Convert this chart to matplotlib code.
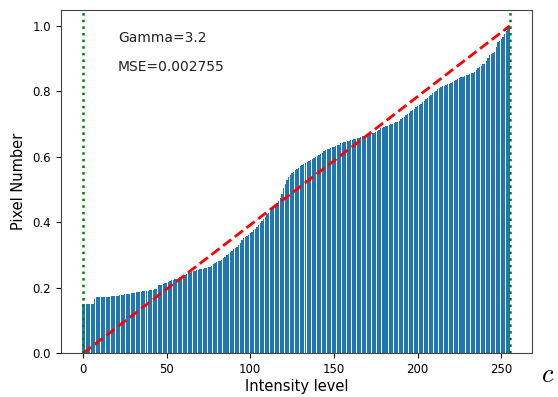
import numpy as np
import matplotlib
matplotlib.use('Agg')
import matplotlib.pyplot as plt

# Intensity levels 0..255 and cumulative pixel share
levels = np.arange(256)
cdf = [
    0.150, 0.150, 0.150, 0.150, 0.150, 0.150, 0.150, 0.165, 0.171, 0.171, 0.171, 0.172, 0.172, 0.172, 0.172, 0.172,
    0.172, 0.174, 0.174, 0.175, 0.175, 0.175, 0.177, 0.178, 0.178, 0.180, 0.181, 0.182, 0.182, 0.183, 0.184, 0.185,
    0.186, 0.186, 0.187, 0.188, 0.189, 0.189, 0.190, 0.191, 0.192, 0.193, 0.194, 0.195, 0.195, 0.208, 0.208, 0.210,
    0.212, 0.214, 0.216, 0.218, 0.221, 0.223, 0.225, 0.226, 0.228, 0.230, 0.233, 0.235, 0.237, 0.239, 0.241, 0.244,
    0.246, 0.248, 0.250, 0.251, 0.253, 0.255, 0.257, 0.258, 0.259, 0.260, 0.261, 0.263, 0.265, 0.268, 0.272, 0.276,
    0.279, 0.281, 0.283, 0.286, 0.290, 0.294, 0.299, 0.304, 0.310, 0.314, 0.318, 0.322, 0.326, 0.331, 0.338, 0.345,
    0.352, 0.355, 0.358, 0.362, 0.366, 0.371, 0.376, 0.381, 0.386, 0.391, 0.397, 0.403, 0.410, 0.417, 0.424, 0.430,
    0.435, 0.441, 0.446, 0.452, 0.458, 0.465, 0.473, 0.488, 0.505, 0.518, 0.529, 0.538, 0.545, 0.551, 0.555, 0.559,
    0.562, 0.566, 0.572, 0.575, 0.578, 0.581, 0.585, 0.588, 0.591, 0.594, 0.597, 0.600, 0.602, 0.605, 0.608, 0.612,
    0.617, 0.621, 0.623, 0.625, 0.627, 0.629, 0.631, 0.633, 0.635, 0.637, 0.641, 0.643, 0.645, 0.646, 0.648, 0.650,
    0.651, 0.653, 0.654, 0.656, 0.657, 0.659, 0.661, 0.663, 0.665, 0.666, 0.668, 0.669, 0.671, 0.672, 0.674, 0.676,
    0.678, 0.682, 0.687, 0.689, 0.691, 0.693, 0.695, 0.697, 0.699, 0.701, 0.703, 0.705, 0.708, 0.711, 0.715, 0.719,
    0.723, 0.727, 0.731, 0.735, 0.739, 0.743, 0.747, 0.751, 0.755, 0.759, 0.763, 0.768, 0.772, 0.776, 0.781, 0.786,
    0.790, 0.794, 0.798, 0.802, 0.806, 0.811, 0.813, 0.815, 0.817, 0.819, 0.822, 0.824, 0.826, 0.829, 0.832, 0.835,
    0.838, 0.840, 0.843, 0.845, 0.847, 0.849, 0.851, 0.853, 0.855, 0.857, 0.860, 0.865, 0.870, 0.875, 0.879, 0.883,
    0.885, 0.893, 0.902, 0.911, 0.914, 0.917, 0.921, 0.935, 0.950, 0.955, 0.960, 0.967, 0.975, 0.985, 0.995, 1.000,
]
ideal_x = [0, 255]
ideal_y = [0, 1]
gamma = 3.2
mse = 0.002755

fig = plt.figure(figsize=(5.58, 3.97), dpi=100)
ax = fig.add_axes([0.109, 0.110, 0.844, 0.866])

ax.bar(levels, cdf, color='#1f77b4')
ax.plot(ideal_x, ideal_y, 'r--', linewidth=2)
ax.axvline(0, color='g', linestyle=':', linewidth=1.8)
ax.axvline(255, color='g', linestyle=':', linewidth=1.8)

# annotation text
ax.text(21, 0.95, f'Gamma={gamma}', fontsize=10, color='#222222')
ax.text(21, 0.862, f'MSE={mse}', fontsize=10, color='#222222')

ax.set_xlabel('Intensity level', fontsize=10.5, labelpad=2)
ax.set_ylabel('Pixel Number', fontsize=10.5, labelpad=5)
ax.tick_params(axis='both', labelsize=8.5)
for sp in ax.spines.values():
    sp.set_color('#444444')

fig.text(0.982, 0.055, '$c$', fontsize=19, ha='center', va='center', math_fontfamily='cm')

fig.savefig('out.png', dpi=100)
